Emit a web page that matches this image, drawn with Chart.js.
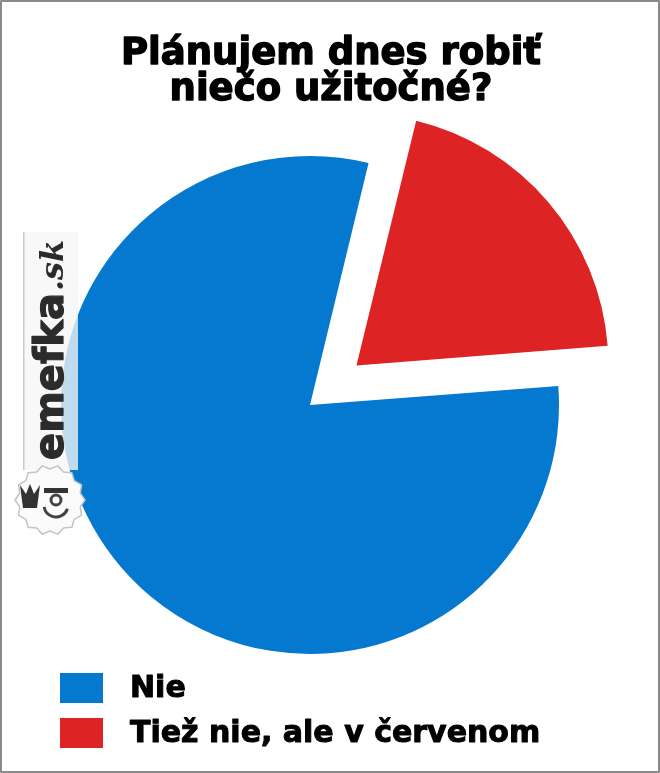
<!DOCTYPE html>
<html lang="sk">
<head>
<meta charset="utf-8">
<title>Plánujem dnes robiť niečo užitočné?</title>
<script src="https://cdn.jsdelivr.net/npm/chart.js@4/dist/chart.umd.min.js"></script>
<style>
  html, body { margin: 0; padding: 0; background: #fff; }
  #wrap { position: relative; width: 660px; height: 773px; }
</style>
</head>
<body>
<div id="wrap"><canvas id="chart" width="660" height="773"></canvas></div>
<script>
// ── dáta ──
const LABELS = ['Nie', 'Tiež nie, ale v červenom'];
const VALUES = [80, 20];
const COLORS = ['#0479cf', '#dd2323'];
const TITLE_LINES = ['Plánujem dnes robiť', 'niečo užitočné?'];
const MARK_TEXT = 'emefka';
const MARK_TLD = '.sk';

// ── pomocník: hrubší text (fill + stroke) ──
function heavyText(ctx, txt, x, y, w) {
    ctx.lineWidth = w;
    ctx.lineJoin = 'round';
    ctx.strokeStyle = ctx.fillStyle;
    ctx.strokeText(txt, x, y);
    ctx.fillText(txt, x, y);
}

// ── titulok, legenda, vodoznak, rámik ──
const decor = {
    id: 'decor',
    beforeDraw(chart) {
        const { ctx } = chart;
        ctx.save();
        ctx.fillStyle = '#fff';
        ctx.fillRect(0, 0, chart.width, chart.height);
        ctx.restore();
    },
    afterDatasetsDraw(chart) {
        const { ctx } = chart;
        const ds = chart.data.datasets[0];
        ctx.save();

        // titulok
        ctx.fillStyle = '#000';
        ctx.font = 'bold 37px "DejaVu Sans"';
        ctx.textAlign = 'center';
        ctx.textBaseline = 'alphabetic';
        TITLE_LINES.forEach((t, i) => heavyText(ctx, t, 331, 64 + i * 36, 1.4));

        // legenda
        ctx.textAlign = 'left';
        ctx.textBaseline = 'middle';
        ctx.font = 'bold 30px "DejaVu Sans"';
        chart.data.labels.forEach((lab, i) => {
            const y = 673 + i * 45;
            ctx.fillStyle = ds.backgroundColor[i];
            ctx.fillRect(60, y, 43, 30);
            ctx.fillStyle = '#000';
            heavyText(ctx, lab, 130, y + 16, 1);
        });

        // vodoznak
        ctx.fillStyle = 'rgba(246,246,246,0.78)';
        ctx.fillRect(23, 232, 55, 238);
        ctx.fillStyle = 'rgba(170,170,170,0.6)';
        ctx.fillRect(23, 232, 1.5, 238);
        ctx.save();
        ctx.translate(63, 460);
        ctx.rotate(-Math.PI / 2);
        ctx.fillStyle = '#2b2b2b';
        ctx.font = 'bold 40px "DejaVu Sans"';
        ctx.textBaseline = 'alphabetic';
        ctx.textAlign = 'left';
        heavyText(ctx, MARK_TEXT, 0, 0, 1.2);
        const w = ctx.measureText(MARK_TEXT).width;
        ctx.font = 'italic bold 32px "DejaVu Serif"';
        ctx.fillText(MARK_TLD, w + 2, 0);
        ctx.restore();

        // logo (hriva)
        ctx.beginPath();
        const n = 28;
        for (let k = 0; k <= n; k++) {
            const a = k / n * Math.PI * 2;
            const r = k % 2 ? 31 : 35;
            const px = 50 + Math.cos(a) * r, py = 500 + Math.sin(a) * r;
            k ? ctx.lineTo(px, py) : ctx.moveTo(px, py);
        }
        ctx.closePath();
        ctx.fillStyle = '#fbfbfb';
        ctx.fill();
        ctx.strokeStyle = '#c4c4c4';
        ctx.lineWidth = 1.5;
        ctx.stroke();
        // koruna
        ctx.fillStyle = '#333';
        ctx.beginPath();
        ctx.moveTo(20, 485); ctx.lineTo(26, 494); ctx.lineTo(30, 484);
        ctx.lineTo(34, 494); ctx.lineTo(40, 485); ctx.lineTo(37, 508); ctx.lineTo(23, 508);
        ctx.closePath();
        ctx.fill();
        // tvár
        ctx.fillRect(44, 488, 24, 5);
        ctx.beginPath();
        ctx.arc(56, 505, 12, 0.1 * Math.PI, 0.95 * Math.PI);
        ctx.strokeStyle = '#444';
        ctx.lineWidth = 3;
        ctx.stroke();
        ctx.beginPath();
        ctx.arc(56, 500, 5, 0, Math.PI * 2);
        ctx.stroke();

        // rámik
        ctx.strokeStyle = '#8a8a8a';
        ctx.lineWidth = 2;
        ctx.strokeRect(1, 1, chart.width - 2, chart.height - 2);
        ctx.restore();
    }
};

new Chart(document.getElementById('chart'), {
    type: 'pie',
    data: {
        labels: LABELS,
        datasets: [{
            data: VALUES,
            backgroundColor: COLORS,
            borderWidth: 0,
            offset: [0, 244],   // v4 posúva výsek o offset/4
            hoverOffset: 0
        }]
    },
    options: {
        responsive: false,
        animation: false,
        devicePixelRatio: 1,
        rotation: 85.6,
        radius: 249,
        layout: { padding: { top: 150, bottom: 113, left: 0, right: 40 } },
        plugins: {
            legend: { display: false },
            title: { display: false },
            tooltip: { enabled: false }
        }
    },
    plugins: [decor]
});
</script>
</body>
</html>
